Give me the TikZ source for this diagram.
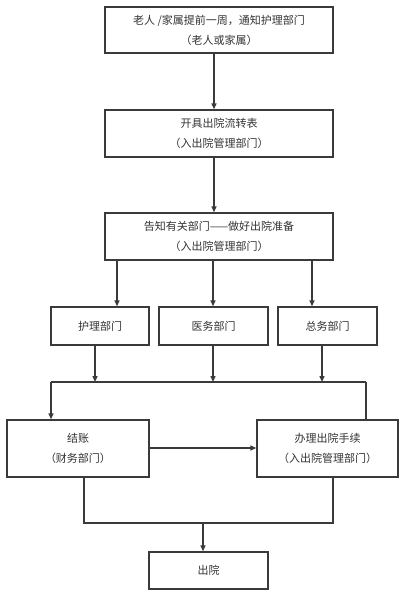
\documentclass[tikz,border=0pt]{standalone}
\usepackage{fontspec}
\newfontfamily\cjk{Noto Sans CJK SC}
\usetikzlibrary{arrows.meta,positioning,calc}
\definecolor{ink}{HTML}{333333}
\definecolor{edge}{HTML}{3A3A3A}
\tikzset{
  stepbox/.style={
    rectangle, draw=edge, fill=white, line width=1.4pt,
    minimum width=#1, font=\cjk\fontsize{11}{20}\selectfont,
    text=ink, align=center, inner sep=2pt
  },
  stepbox/.default=228pt,
  flowarrow/.style={
    -{Triangle[length=6pt,width=5pt]}, line width=1.4pt, color=edge
  },
  flowline/.style={
    line width=1.4pt, color=edge
  },
}
\begin{document}
\begin{tikzpicture}[x=1pt,y=-1pt]
\useasboundingbox (0,0) rectangle (408,600);

% Top chain of steps
\node[stepbox, minimum height=46pt] (notify) at (219,30)
  {老人 /家属提前一周，通知护理部门\\（老人或家属）};
\node[stepbox, minimum height=47pt] (form) at (219,133.5)
  {开具出院流转表\\（入出院管理部门）};
\node[stepbox, minimum height=47pt] (prep) at (219,236.5)
  {告知有关部门——做好出院准备\\（入出院管理部门）};

% Departments
\node[stepbox=98pt, minimum height=38pt] (nurse) at (100,326) {护理部门};
\node[stepbox=109pt, minimum height=38pt] (med) at (213.5,326) {医务部门};
\node[stepbox=99pt, minimum height=38pt] (gen) at (327.5,326) {总务部门};

% Billing and formalities
\node[stepbox=142pt, minimum height=57pt] (bill) at (78,448.5)
  {结账\\（财务部门）};
\node[stepbox=141pt, minimum height=57pt] (proc) at (327.5,448.5)
  {办理出院手续\\（入出院管理部门）};

% Discharge
\node[stepbox=119pt, minimum height=37pt] (out) at (208.5,570.5) {出院};

% Junction points
\coordinate (jl) at (51,382);
\coordinate (jr) at (366,382);
\coordinate (bl) at (84,523);
\coordinate (br) at (333,523);
\coordinate (bm) at (203,523);

% Main arrows
\draw[flowarrow] ([xshift=-5pt]notify.south) -- ([xshift=-5pt]form.north);
\draw[flowarrow] ([xshift=-5pt]form.south) -- ([xshift=-5pt]prep.north);

% Split to departments
\draw[flowarrow] ([xshift=-102pt]prep.south) -- ([xshift=-102pt]prep.south |- nurse.north);
\draw[flowarrow] ([xshift=-6pt]prep.south) -- ([xshift=-6pt]prep.south |- med.north);
\draw[flowarrow] ([xshift=93pt]prep.south) -- ([xshift=93pt]prep.south |- gen.north);

% Merge from departments
\draw[flowline] (jl) -- (jr);
\draw[flowarrow] ([xshift=-5pt]nurse.south) -- ([xshift=-5pt]nurse.south |- jl);
\draw[flowarrow] ([xshift=-0.5pt]med.south) -- ([xshift=-0.5pt]med.south |- jl);
\draw[flowarrow] ([xshift=-5.5pt]gen.south) -- ([xshift=-5.5pt]gen.south |- jl);
\draw[flowarrow] (jl) -- (jl |- bill.north);
\draw[flowline] (jr) -- (jr |- proc.north);

% Billing to formalities
\draw[flowarrow] ([yshift=0.5pt]bill.east) -- ([yshift=0.5pt]proc.west);

% Merge to discharge
\draw[flowline] ([xshift=6pt]bill.south) -- (bl) -- (br) -- ([xshift=5.5pt]proc.south);
\draw[flowarrow] (bm) -- (bm |- out.north);

\end{tikzpicture}
\end{document}
